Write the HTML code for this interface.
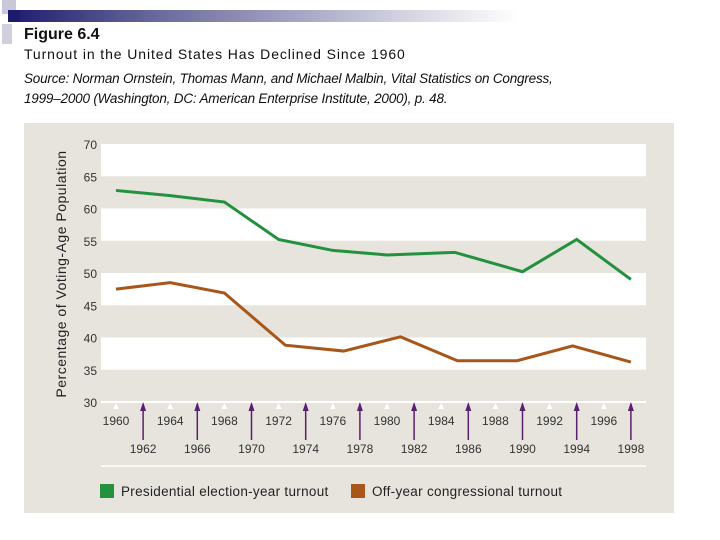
<!DOCTYPE html>
<html><head><meta charset="utf-8"><style>
body{margin:0;width:720px;height:540px;background:#fff;overflow:hidden;font-family:"Liberation Sans",Arial,sans-serif;position:relative}
.t{position:absolute;left:24px;color:#111;white-space:nowrap}
</style></head><body>
<div style="position:absolute;left:8px;top:10px;width:510px;height:12px;background:linear-gradient(90deg,#1c1c6e,#6b6b9e 30%,#d8d8e4 80%,#fff)"></div>
<div style="position:absolute;left:2px;top:0;width:14px;height:14px;background:#c8c8d8"></div>
<div style="position:absolute;left:8px;top:10px;width:12px;height:12px;background:#1c1c6e"></div>
<div style="position:absolute;left:2px;top:24px;width:10px;height:20px;background:#d0d0dc"></div>
<div class="t" style="top:26px;font-size:16px;font-weight:bold">Figure 6.4</div>
<div class="t" style="top:46px;font-size:14px;letter-spacing:0.9px">Turnout in the United States Has Declined Since 1960</div>
<div class="t" style="top:69px;font-size:13.5px;font-style:italic;line-height:20px;letter-spacing:-0.2px">Source: Norman Ornstein, Thomas Mann, and Michael Malbin, Vital Statistics on Congress,<br>1999–2000 (Washington, DC: American Enterprise Institute, 2000), p. 48.</div>
<svg id="c" style="position:absolute;left:0;top:0" width="720" height="540"></svg>
<script>
const yTicks=[30,35,40,45,50,55,60,65,70];
const presYears=[1960,1964,1968,1972,1976,1980,1985,1990,1994,1998];
const presVals=[62.8,62,61,55.2,53.5,52.8,53.2,50.2,55.2,49.0];
const offYears=[1960,1962,1964,1968,1972.5,1976.8,1981,1985.2,1989.6,1993.7,1998];
const offVals=[47.5,48,48.5,46.9,38.8,37.9,40.1,36.4,36.4,38.7,36.2];
const topLabels=["1960","1964","1968","1972","1976","1980","1984","1988","1992","1996"];
const botLabels=["1962","1966","1970","1974","1978","1982","1986","1990","1994","1998"];
const NS="http://www.w3.org/2000/svg",svg=document.getElementById('c');
const X=yr=>116+(yr-1960)*13.55, Y=v=>402-(v-30)*6.45;
function mk(t,a,p){const e=document.createElementNS(NS,t);for(const k in a)e.setAttribute(k,a[k]);(p||svg).appendChild(e);return e;}
let e=mk('rect',{x:24,y:123,width:650,height:390,fill:'#e6e4dd'});


for(let i=0;i<yTicks.length-1;i++){
  if(i%2==1){e=mk('rect',{x:101,y:Y(yTicks[i+1]),width:545,height:Y(yTicks[i])-Y(yTicks[i+1]),fill:'#fff'});
  
  }
}
yTicks.forEach(v=>{e=mk('text',{x:97,y:Y(v)+5,'text-anchor':'end','font-size':12,fill:'#333'});e.textContent=v;

});
e=mk('text',{transform:'translate(66,274) rotate(-90)','text-anchor':'middle','font-size':14,'letter-spacing':0.5,fill:'#222'});
e.textContent='Percentage of Voting-Age Population';


e=mk('line',{x1:101,x2:646,y1:402,y2:402,stroke:'#fff','stroke-width':2});


mk('line',{x1:101,x2:646,y1:466,y2:466,stroke:'#fff','stroke-width':1.5});
topLabels.forEach(l=>{const x=X(+l);
  mk('path',{d:`M${x-3},${409} L${x},${403} L${x+3},${409}Z`,fill:'#fff'});
  e=mk('text',{x:x,y:425,'text-anchor':'middle','font-size':12,fill:'#333'});e.textContent=l;
  
  });
botLabels.forEach(l=>{const x=X(+l);
  mk('line',{x1:x,x2:x,y1:404,y2:440,stroke:'#5a1f6e','stroke-width':1.5});
  mk('path',{d:`M${x-3},${411} L${x},${402} L${x+3},${411}Z`,fill:'#5a1f6e'});
  e=mk('text',{x:x,y:453,'text-anchor':'middle','font-size':12,fill:'#333'});e.textContent=l;
  
  });
e=mk('polyline',{points:presYears.map((y,i)=>X(y)+','+Y(presVals[i])).join(' '),fill:'none',stroke:'#23913d','stroke-width':3});


e=mk('polyline',{points:offYears.map((y,i)=>X(y)+','+Y(offVals[i])).join(' '),fill:'none',stroke:'#a9561a','stroke-width':3});


e=mk('rect',{x:100,y:484,width:14,height:14,fill:'#23913d'});


e=mk('text',{x:121,y:496,'font-size':13.5,'letter-spacing':0.3,fill:'#222'});e.textContent='Presidential election-year turnout';


e=mk('rect',{x:351,y:484,width:14,height:14,fill:'#a9561a'});


e=mk('text',{x:372,y:496,'font-size':13.5,'letter-spacing':0.3,fill:'#222'});e.textContent='Off-year congressional turnout';


</script>
</body></html>
